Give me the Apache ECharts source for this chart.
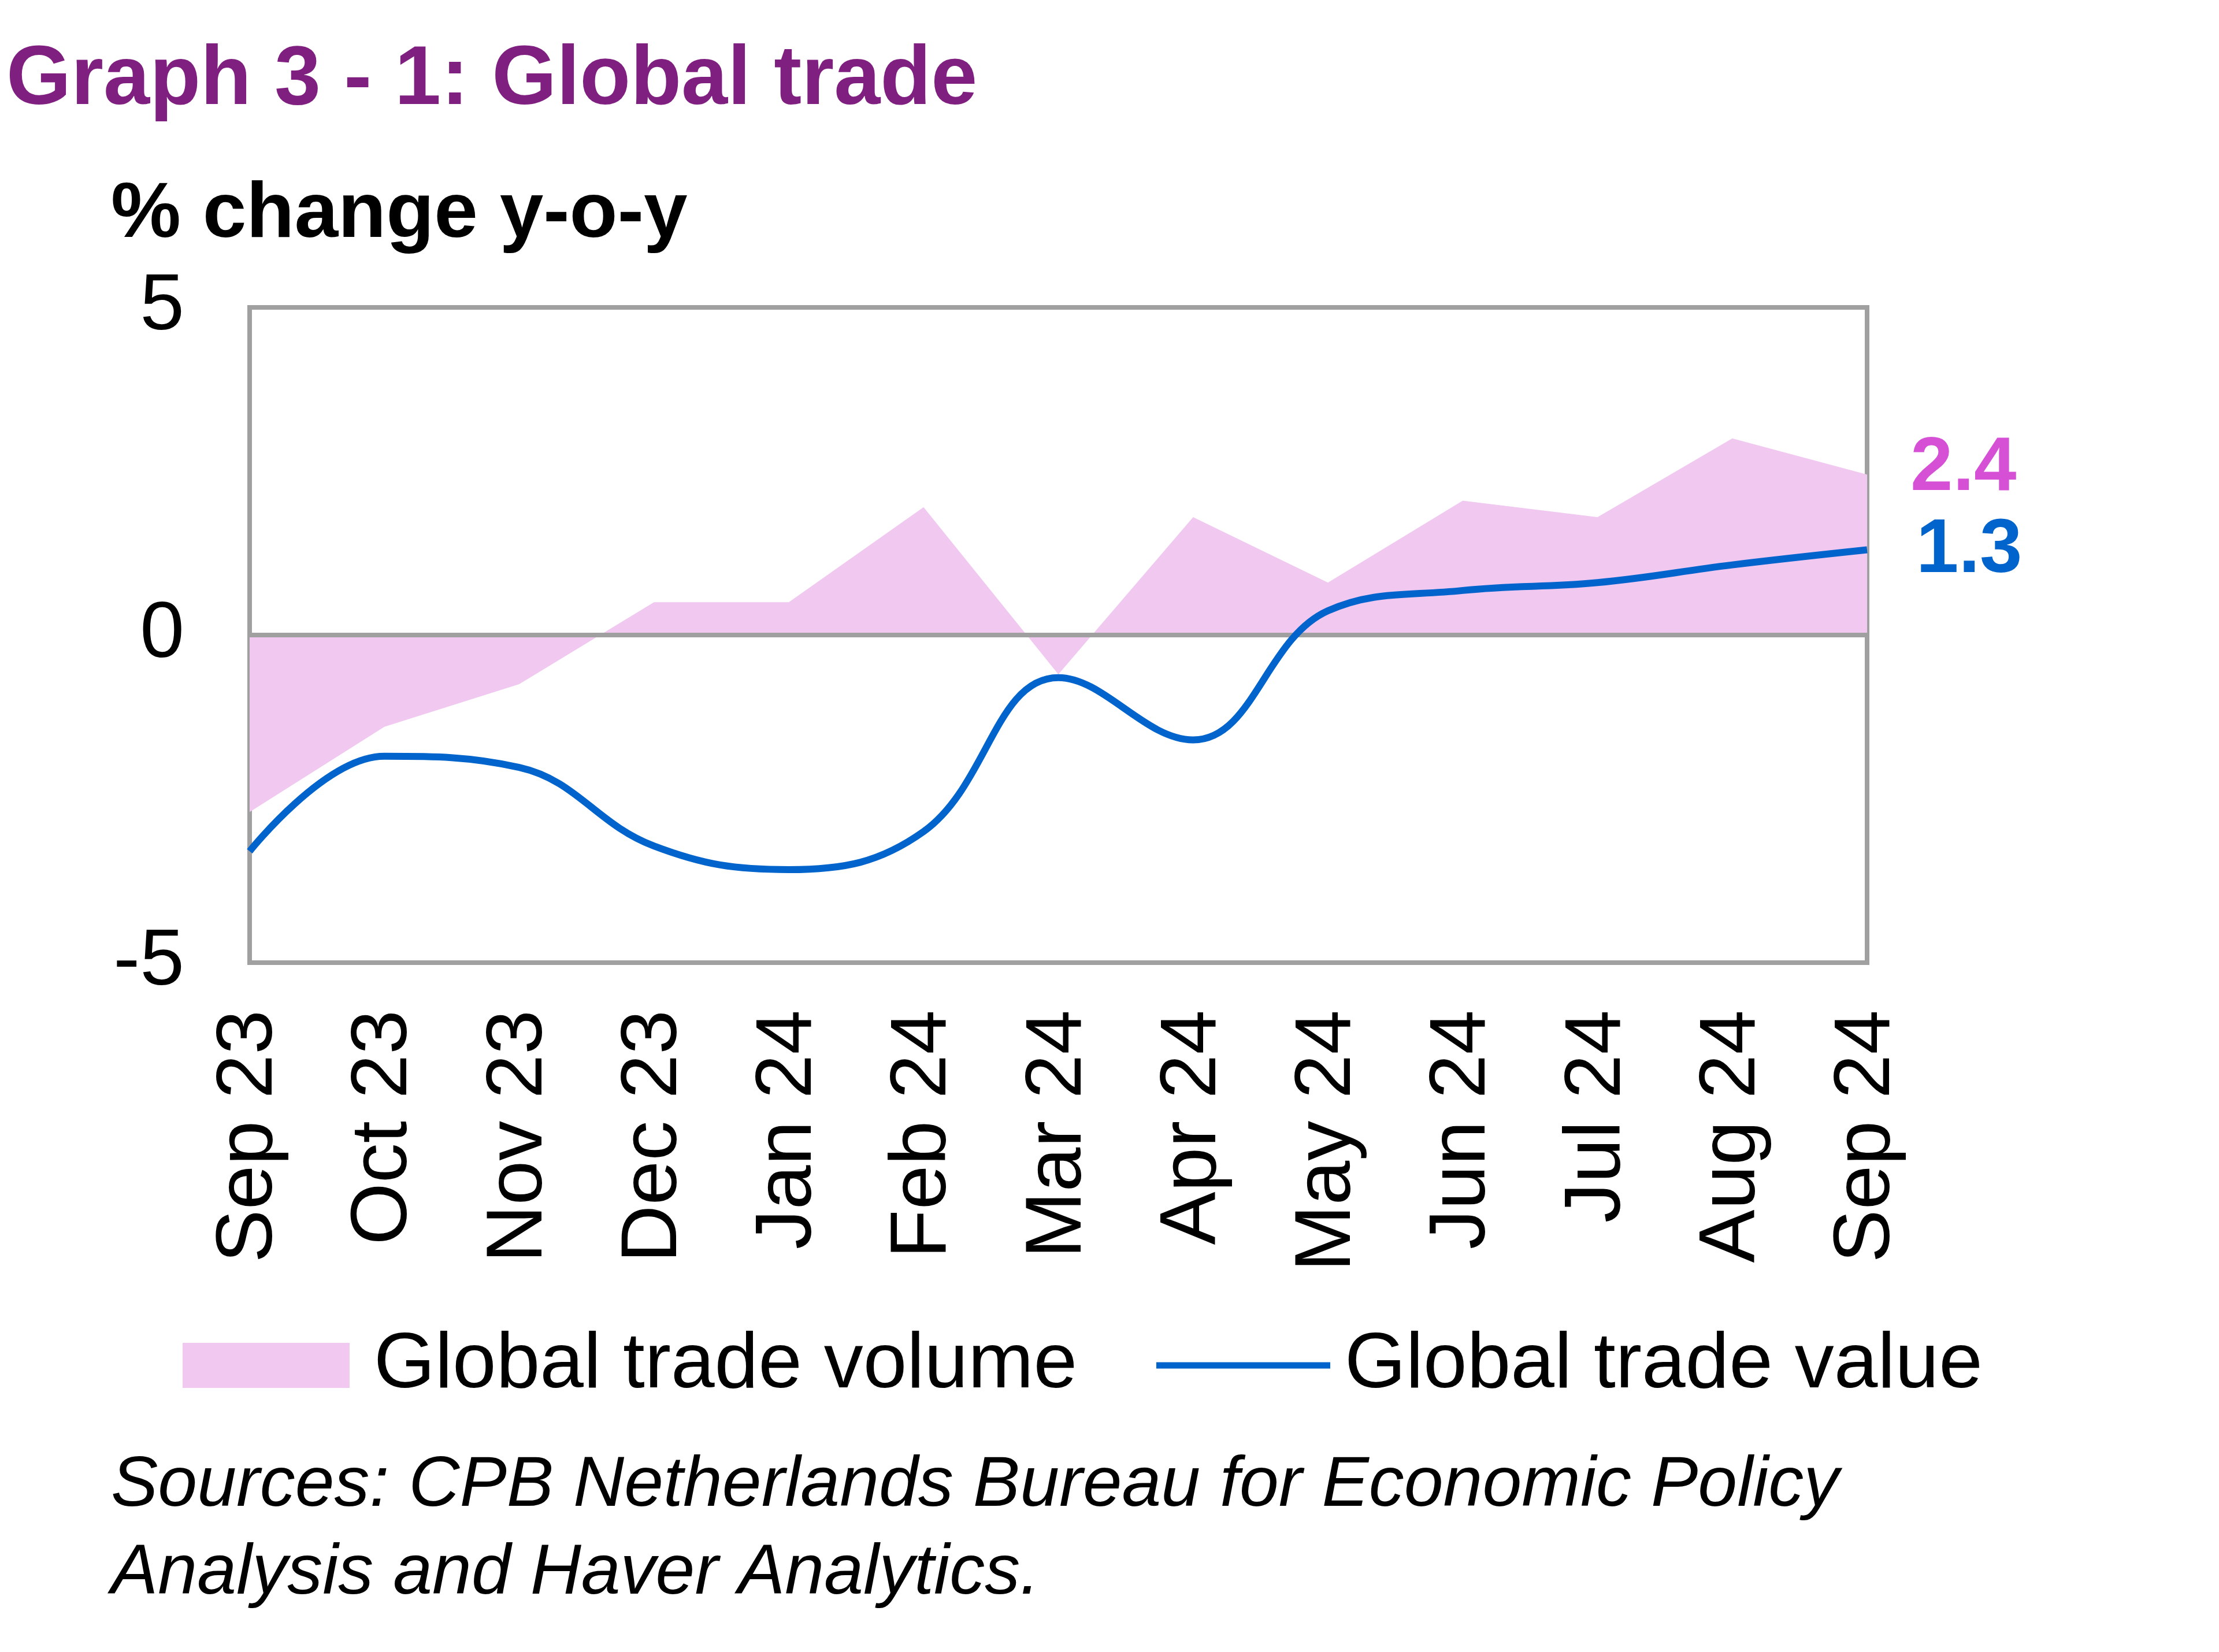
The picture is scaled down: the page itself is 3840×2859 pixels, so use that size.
<!DOCTYPE html>
<html>
<head>
<meta charset="utf-8">
<script src="https://cdn.jsdelivr.net/npm/echarts@6/dist/echarts.min.js"></script>
<style>
html,body{margin:0;padding:0;background:#fff;}
#chart{width:3840px;height:2859px;}
</style>
</head>
<body>
<div id="chart"></div>
<script>
// ---- data ----
const categories = ['Sep 23','Oct 23','Nov 23','Dec 23','Jan 24','Feb 24','Mar 24','Apr 24','May 24','Jun 24','Jul 24','Aug 24','Sep 24'];
const tradeVolume = [-2.7, -1.4, -0.75, 0.5, 0.5, 1.95, -0.6, 1.8, 0.8, 2.05, 1.8, 3.0, 2.45];
const tradeValue  = [-3.3, -1.85, -2.02, -3.22, -3.58, -3.0, -0.65, -1.6, 0.37, 0.68, 0.8, 1.07, 1.3];
const endLabels = ['2.4', '1.3'];
const seriesNames = ['Global trade volume', 'Global trade value'];
const yTicks = {min: -5, max: 5, interval: 5};

const FONT = 'Liberation Sans, Arial, sans-serif';
const chart = echarts.init(document.getElementById('chart'));
chart.setOption({
  animation: false,
  backgroundColor: '#ffffff',
  textStyle: {fontFamily: FONT},
  title: [
    {text: 'Graph 3 - 1: Global trade', left: 6, top: 63,
     textStyle: {fontFamily: FONT, fontSize: 144, fontWeight: 'bold', color: '#7F1F7F', lineHeight: 144}},
    {text: '% change y-o-y', left: 187, top: 299,
     textStyle: {fontFamily: FONT, fontSize: 136, fontWeight: 'bold', color: '#000', lineHeight: 136}},
    {text: 'Sources: CPB Netherlands Bureau for Economic Policy\nAnalysis and Haver Analytics.', left: 187, top: 2491,
     textStyle: {fontFamily: FONT, fontSize: 122, fontStyle: 'italic', fontWeight: 'normal', color: '#000', lineHeight: 152}}
  ],
  legend: [
    {data: [{name: seriesNames[0], icon: 'rect'}], left: 311, top: 2290, itemWidth: 289, itemHeight: 78,
     itemStyle: {color: '#F0C8F0', borderWidth: 0},
     textStyle: {fontFamily: FONT, fontSize: 136, color: '#000', lineHeight: 136, padding: [0,0,0,37]}},
    {data: [{name: seriesNames[1], icon: 'rect'}], left: 1996, top: 2290, itemWidth: 301, itemHeight: 11,
     itemStyle: {color: '#0064CC', borderWidth: 0},
     textStyle: {fontFamily: FONT, fontSize: 136, color: '#000', lineHeight: 136, padding: [0,0,0,20]}}
  ],
  grid: {left: 432, right: 609, top: 532, bottom: 1193, show: true, borderColor: '#A0A0A0', borderWidth: 8, backgroundColor: 'transparent'},
  xAxis: [
    {type: 'category', data: categories, boundaryGap: false, position: 'bottom',
     axisLine: {show: false, onZero: false}, axisTick: {show: false}, splitLine: {show: false},
     axisLabel: {rotate: 90, fontFamily: FONT, fontSize: 138, color: '#000', margin: 82, interval: 0}},
    {type: 'category', data: categories, boundaryGap: false, position: 'bottom', z: 3,
     axisLine: {show: true, onZero: true, lineStyle: {color: '#A0A0A0', width: 8}},
     axisTick: {show: false}, axisLabel: {show: false}, splitLine: {show: false}}
  ],
  yAxis: {type: 'value', min: yTicks.min, max: yTicks.max, interval: yTicks.interval,
    axisLine: {show: false}, axisTick: {show: false}, splitLine: {show: false},
    axisLabel: {fontFamily: FONT, fontSize: 138, color: '#000', margin: 113}},
  series: [
    {name: seriesNames[0], type: 'line', data: tradeVolume, xAxisIndex: 0, z: 2,
     symbol: 'none', showSymbol: false, itemStyle: {color: '#F0C8F0'},
     lineStyle: {width: 0, opacity: 0},
     areaStyle: {color: '#F0C8F0', opacity: 1, origin: 'auto'},
     endLabel: {show: true, formatter: endLabels[0], distance: 75, offset: [0, -10],
       fontFamily: FONT, fontSize: 132, fontWeight: 'bold', color: '#D650D6'}},
    {name: seriesNames[1], type: 'line', data: tradeValue, xAxisIndex: 0, z: 4, smooth: 0.4,
     symbol: 'none', showSymbol: false, itemStyle: {color: '#0064CC'},
     lineStyle: {width: 12, color: '#0064CC'},
     endLabel: {show: true, formatter: endLabels[1], distance: 75, offset: [10, 2],
       fontFamily: FONT, fontSize: 132, fontWeight: 'bold', color: '#0064CC'}}
  ]
});
</script>
</body>
</html>
